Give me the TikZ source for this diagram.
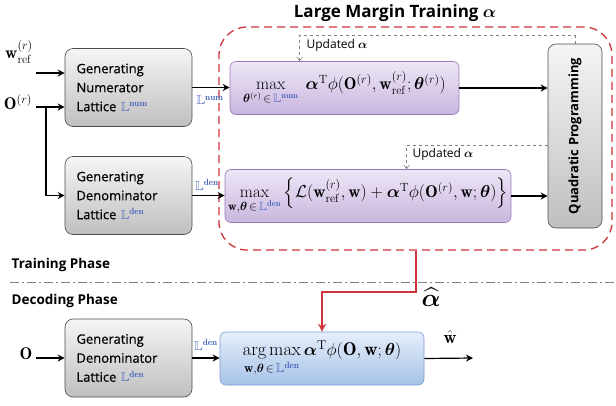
\documentclass[tikz,border=0pt]{standalone}
\usepackage{amsmath}
\usepackage{amssymb}
\usepackage{bm}
\usepackage{fontspec}
\setsansfont{Open Sans}
\usetikzlibrary{arrows.meta,shadings}

\definecolor{latblue}{RGB}{72,104,190}
\definecolor{mred}{RGB}{206,52,60}
\definecolor{lilactop}{RGB}{238,230,246}
\definecolor{lilacbot}{RGB}{200,182,222}
\definecolor{lilacedge}{RGB}{150,125,185}
\definecolor{skytop}{RGB}{230,238,250}
\definecolor{skybot}{RGB}{166,194,232}
\definecolor{skyedge}{RGB}{125,160,210}
\newcommand{\lat}[1]{\textcolor{latblue}{\mathbb{L}^{\mathbf{#1}}}}

\begin{document}
\begin{tikzpicture}[
        x=1pt, y=-1pt,
        font=\sffamily,
        gen/.style={
            draw=gray!60!black,
            rounded corners=8pt,
            top color=gray!8,
            bottom color=gray!50,
            minimum width=127pt,
            minimum height=78pt,
            text width=104pt,
            align=left,
            font=\sffamily\addfontfeature{FakeBold=0.6}\fontsize{13}{19}\selectfont
        },
        qpbox/.style={
            draw=gray!60!black,
            rounded corners=8pt,
            top color=gray!8,
            bottom color=gray!50,
            minimum width=54pt,
            minimum height=184pt,
            inner sep=0pt,
            font=\sffamily\bfseries\fontsize{13}{13}\selectfont
        },
        objbox/.style={
            draw=lilacedge,
            rounded corners=6pt,
            top color=lilactop,
            bottom color=lilacbot,
            minimum height=53pt,
            inner sep=0pt
        },
        decbox/.style={
            draw=skyedge,
            rounded corners=6pt,
            top color=skytop,
            bottom color=skybot,
            minimum height=53pt,
            inner sep=0pt
        },
        region/.style={
            draw=mred,
            dashed,
            dash pattern=on 8pt off 5pt,
            line width=1.3pt,
            rounded corners=28pt,
            minimum width=393pt,
            minimum height=223pt
        },
        arr/.style={-{Stealth[length=7pt,width=7pt]}, line width=1.2pt},
        feed/.style={-{Straight Barb[length=4pt,width=6pt]}, gray, dashed, line width=0.5pt},
        every path/.style={line width=0.6pt}
    ]

    \useasboundingbox (0,0) rectangle (616,405);

    % training region
    \node[region] (train) at (415.5,138.5) {};
    \node[font=\sffamily\bfseries\fontsize{17}{17}\selectfont] (title) at (395,13)
        {Large Margin Training $\bm{\alpha}$};

    % lattice generation
    \node[gen] (num) at (128.5,87.5)
        {Generating\\Numerator\\Lattice $\lat{num}$};
    \node[gen] (den) at (128.5,195.5)
        {Generating\\Denominator\\Lattice $\lat{den}$};

    % objectives
    \node[objbox, minimum width=229pt] (numobj) at (344.5,88)
        {\fontsize{17}{17}\selectfont
         $\max\limits_{\bm{\theta}^{(r)}\,\in\,\lat{num}}\ \bm{\alpha}^{\mathrm{T}}\phi(\mathbf{O}^{(r)},\mathbf{w}^{(r)}_{\mathrm{ref}};\bm{\theta}^{(r)})$};
    \node[objbox, minimum width=286pt] (denobj) at (368,196)
        {\fontsize{17}{17}\selectfont
         $\max\limits_{\mathbf{w},\bm{\theta}\,\in\,\lat{den}}\Big\{\mathcal{L}(\mathbf{w}^{(r)}_{\mathrm{ref}},\mathbf{w})+\bm{\alpha}^{\mathrm{T}}\phi(\mathbf{O}^{(r)},\mathbf{w};\bm{\theta})\Big\}$};

    \node[qpbox] (qp) at (575,136) {\rotatebox{90}{Quadratic Programming}};

    % inputs
    \node[font=\fontsize{17}{17}\selectfont] (wref) at (19,52) {$\mathbf{w}^{(r)}_{\mathrm{ref}}$};
    \node[font=\fontsize{17}{17}\selectfont] (obs) at (18,102) {$\mathbf{O}^{(r)}$};
    \coordinate (win) at (36,73);
    \coordinate (oin) at (36,107);
    \coordinate (split) at (46,107);

    \draw[arr] (win) -- (win -| num.west);
    \draw[arr] (oin) -- (oin -| num.west);
    \draw[arr] (split) |- (den.west);
    \draw[arr] (num.east) -- (num.east -| numobj.west);
    \draw[arr] (den.east) -- (den.east -| denobj.west);
    \draw[arr] (numobj.east) -- (numobj.east -| qp.west);
    \draw[arr] (denobj.east) -- (denobj.east -| qp.west);

    \node[font=\fontsize{13}{13}\selectfont] (numlat) at (210,100) {$\lat{num}$};
    \node[font=\fontsize{13}{13}\selectfont] (denlat) at (207,185) {$\lat{den}$};

    % feedback
    \draw[feed] (qp.north) -- ++(0,-8) -| ([xshift=70pt]numobj.north west);
    \draw[feed] (qp.west |- 0,145) -| ([xshift=182pt]denobj.north west);
    \node[anchor=west, font=\sffamily\fontsize{12}{12}\selectfont] (upd1) at (303,45) {Updated $\bm{\alpha}$};
    \node[anchor=west, font=\sffamily\fontsize{12}{12}\selectfont] (upd2) at (409,154) {Updated $\bm{\alpha}$};

    % phases
    \node[anchor=west, font=\sffamily\bfseries\fontsize{13.5}{14}\selectfont] (trainph) at (8,265) {Training Phase};
    \node[anchor=west, font=\sffamily\bfseries\fontsize{13.5}{14}\selectfont] (decph) at (8,301) {Decoding Phase};
    \coordinate (sepl) at (10,282);
    \coordinate (sepr) at (616,282);
    \draw[gray, line width=0.8pt, dash pattern=on 9pt off 3pt on 2pt off 3pt] (sepl) -- (sepr);

    % decoding
    \node[gen] (dec) at (128.5,358)
        {Generating\\Denominator\\Lattice $\lat{den}$};
    \node[decbox, minimum width=204pt] (decobj) at (322,358.5)
        {\fontsize{18.5}{18}\selectfont
         $\operatorname*{arg\,max}\limits_{\mathbf{w},\bm{\theta}\,\in\,\lat{den}}\bm{\alpha}^{\mathrm{T}}\phi(\mathbf{O},\mathbf{w};\bm{\theta})$};
    \node[font=\fontsize{17}{17}\selectfont] (oobs) at (26,354) {$\mathbf{O}$};
    \coordinate (oin2) at (36,358);
    \coordinate (wout) at (473,358);
    \draw[arr] (oin2) -- (oin2 -| dec.west);
    \draw[arr] (dec.east) -- (dec.east -| decobj.west);
    \draw[arr] (decobj.east) -- (wout);
    \node[font=\fontsize{13}{13}\selectfont] (declat) at (206,345) {$\lat{den}$};
    \node[font=\fontsize{18}{18}\selectfont] (what) at (450,337) {$\hat{\mathbf{w}}$};

    % learned weights
    \draw[-{Stealth[length=8pt,width=8pt]}, draw=mred, line width=2pt]
        (train.south) -- ++(0,41) -| (decobj.north);
    \node[font=\fontsize{26}{26}\selectfont] (ahat) at (431,297) {$\widehat{\bm{\alpha}}$};

\end{tikzpicture}
\end{document}
